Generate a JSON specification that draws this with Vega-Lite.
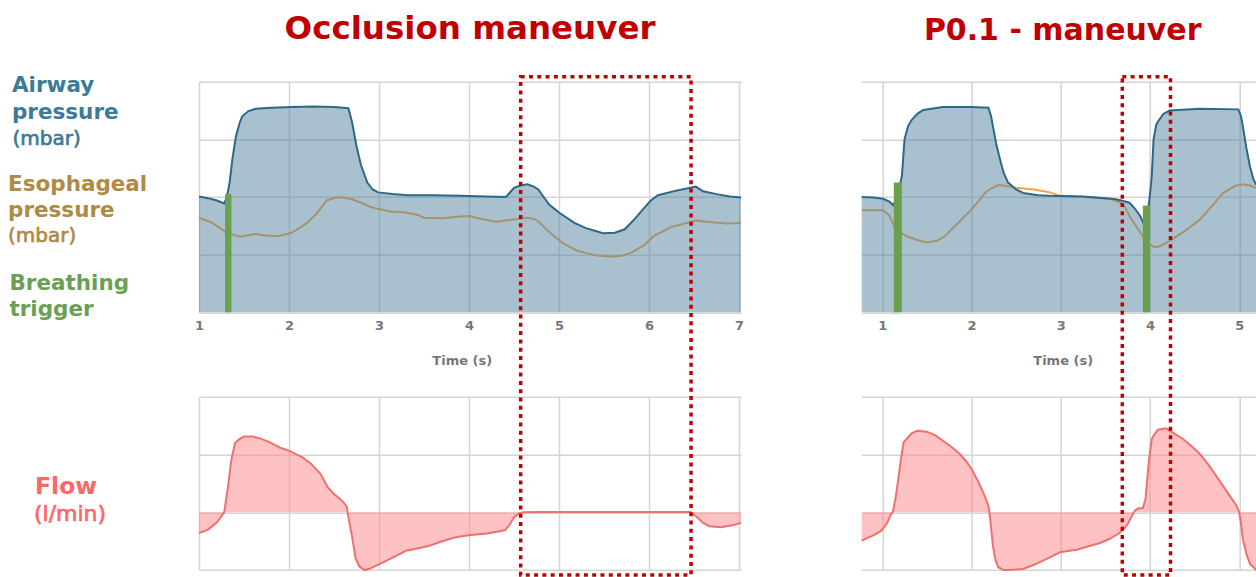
{
  "$schema": "https://vega.github.io/schema/vega-lite/v6.json",
  "padding": {"left": 8, "top": 12.7, "right": 0, "bottom": 0},
  "autosize": {"type": "pad"},
  "config": {
    "view": {"stroke": null},
    "axis": {"domain": false, "ticks": false, "gridColor": "#d5d5d5", "gridWidth": 1.5, "labelFont": "DejaVu Sans", "labelFontWeight": "bold", "labelFontSize": 13, "labelColor": "#777777", "labelPadding": 7.5, "labelFlush": false, "format": "d", "titleFont": "DejaVu Sans", "titleFontWeight": "bold", "titleFontSize": 13, "titleColor": "#777777", "titlePadding": 22}
  },
  "datasets": {
    "paw_l": [{"t":1.0,"p":20.1},{"t":1.1,"p":19.8},{"t":1.2,"p":19.4},{"t":1.28,"p":18.9},{"t":1.31,"p":20.0},{"t":1.34,"p":22.5},{"t":1.37,"p":26.5},{"t":1.41,"p":30.5},{"t":1.45,"p":32.8},{"t":1.48,"p":34.0},{"t":1.55,"p":34.9},{"t":1.63,"p":35.3},{"t":1.8,"p":35.5},{"t":2.03,"p":35.6},{"t":2.27,"p":35.7},{"t":2.5,"p":35.6},{"t":2.66,"p":35.4},{"t":2.7,"p":33.0},{"t":2.75,"p":28.8},{"t":2.8,"p":25.5},{"t":2.87,"p":22.5},{"t":2.93,"p":21.3},{"t":2.99,"p":20.8},{"t":3.15,"p":20.5},{"t":3.32,"p":20.3},{"t":3.6,"p":20.3},{"t":3.9,"p":20.2},{"t":4.2,"p":20.1},{"t":4.41,"p":20.0},{"t":4.45,"p":20.7},{"t":4.5,"p":21.6},{"t":4.57,"p":22.0},{"t":4.65,"p":22.2},{"t":4.72,"p":21.8},{"t":4.77,"p":21.3},{"t":4.83,"p":20.0},{"t":4.89,"p":18.7},{"t":5.0,"p":17.3},{"t":5.17,"p":15.5},{"t":5.3,"p":14.6},{"t":5.49,"p":13.7},{"t":5.62,"p":13.8},{"t":5.73,"p":14.4},{"t":5.83,"p":16.0},{"t":5.93,"p":17.8},{"t":6.02,"p":19.4},{"t":6.1,"p":20.3},{"t":6.3,"p":21.1},{"t":6.52,"p":21.8},{"t":6.6,"p":21.0},{"t":6.75,"p":20.5},{"t":6.9,"p":20.1},{"t":7.022,"p":19.9}],
    "pes_l": [{"t":1.0,"p":16.4},{"t":1.15,"p":15.5},{"t":1.28,"p":14.1},{"t":1.35,"p":13.6},{"t":1.46,"p":13.1},{"t":1.55,"p":13.4},{"t":1.63,"p":13.6},{"t":1.75,"p":13.3},{"t":1.87,"p":13.2},{"t":2.03,"p":13.8},{"t":2.15,"p":15.0},{"t":2.2,"p":15.5},{"t":2.3,"p":17.0},{"t":2.42,"p":19.4},{"t":2.52,"p":19.9},{"t":2.6,"p":19.9},{"t":2.7,"p":19.6},{"t":2.8,"p":19.0},{"t":2.9,"p":18.3},{"t":3.0,"p":17.9},{"t":3.13,"p":17.5},{"t":3.3,"p":17.3},{"t":3.45,"p":16.8},{"t":3.5,"p":16.4},{"t":3.7,"p":16.3},{"t":3.9,"p":16.6},{"t":4.0,"p":16.7},{"t":4.1,"p":16.3},{"t":4.3,"p":15.7},{"t":4.45,"p":16.0},{"t":4.65,"p":16.4},{"t":4.72,"p":16.2},{"t":4.77,"p":15.8},{"t":4.9,"p":13.8},{"t":5.05,"p":11.9},{"t":5.2,"p":10.7},{"t":5.4,"p":9.9},{"t":5.55,"p":9.7},{"t":5.7,"p":9.8},{"t":5.8,"p":10.3},{"t":5.95,"p":11.7},{"t":6.05,"p":13.2},{"t":6.25,"p":14.8},{"t":6.52,"p":15.9},{"t":6.7,"p":15.6},{"t":6.87,"p":15.4},{"t":7.022,"p":15.5}],
    "flow_l": [{"t":1.0,"f":-21.7},{"t":1.1,"f":-18},{"t":1.2,"f":-10.5},{"t":1.28,"f":0},{"t":1.32,"f":25},{"t":1.36,"f":55},{"t":1.4,"f":72},{"t":1.45,"f":76},{"t":1.5,"f":78.6},{"t":1.6,"f":78.6},{"t":1.7,"f":76},{"t":1.8,"f":72},{"t":1.9,"f":67},{"t":2.0,"f":64},{"t":2.15,"f":57},{"t":2.25,"f":50},{"t":2.35,"f":40},{"t":2.43,"f":26},{"t":2.5,"f":19},{"t":2.6,"f":11},{"t":2.64,"f":6.2},{"t":2.66,"f":-5},{"t":2.7,"f":-25},{"t":2.74,"f":-48},{"t":2.78,"f":-56},{"t":2.84,"f":-60},{"t":2.9,"f":-58.5},{"t":3.0,"f":-54},{"t":3.15,"f":-47},{"t":3.3,"f":-40},{"t":3.45,"f":-37},{"t":3.55,"f":-35},{"t":3.7,"f":-30},{"t":3.85,"f":-26},{"t":3.99,"f":-23.8},{"t":4.2,"f":-22},{"t":4.4,"f":-18.6},{"t":4.45,"f":-13},{"t":4.5,"f":-5},{"t":4.55,"f":-1.5},{"t":4.6,"f":0},{"t":4.8,"f":0.3},{"t":5.2,"f":0.3},{"t":6.0,"f":0.3},{"t":6.46,"f":0.3},{"t":6.52,"f":-4},{"t":6.6,"f":-11},{"t":6.67,"f":-14.5},{"t":6.8,"f":-15.5},{"t":6.95,"f":-13},{"t":7.022,"f":-11}],
    "paw_r": [{"t":0.77,"p":20.0},{"t":0.9,"p":19.9},{"t":1.01,"p":19.7},{"t":1.08,"p":19.2},{"t":1.12,"p":18.6},{"t":1.16,"p":19.6},{"t":1.19,"p":21.5},{"t":1.22,"p":23.6},{"t":1.25,"p":30.0},{"t":1.29,"p":32.3},{"t":1.33,"p":33.4},{"t":1.4,"p":34.5},{"t":1.46,"p":35.1},{"t":1.68,"p":35.6},{"t":2.0,"p":35.6},{"t":2.19,"p":35.5},{"t":2.22,"p":34.0},{"t":2.24,"p":32.3},{"t":2.28,"p":29.0},{"t":2.32,"p":26.5},{"t":2.36,"p":24.2},{"t":2.41,"p":22.5},{"t":2.5,"p":21.3},{"t":2.58,"p":20.7},{"t":2.75,"p":20.3},{"t":2.88,"p":20.2},{"t":3.25,"p":20.1},{"t":3.5,"p":19.8},{"t":3.62,"p":19.6},{"t":3.7,"p":19.3},{"t":3.77,"p":19.0},{"t":3.83,"p":18.0},{"t":3.89,"p":16.7},{"t":3.93,"p":15.4},{"t":3.96,"p":16.2},{"t":3.98,"p":17.8},{"t":4.0,"p":20.5},{"t":4.02,"p":23.6},{"t":4.04,"p":30.0},{"t":4.07,"p":32.5},{"t":4.09,"p":33.1},{"t":4.15,"p":34.4},{"t":4.22,"p":35.0},{"t":4.56,"p":35.3},{"t":4.99,"p":35.2},{"t":5.02,"p":34.0},{"t":5.04,"p":32.3},{"t":5.08,"p":28.5},{"t":5.12,"p":25.3},{"t":5.16,"p":23.0},{"t":5.19,"p":22.2},{"t":5.274,"p":21.0}],
    "pes_r": [{"t":0.77,"p":17.7},{"t":1.01,"p":17.7},{"t":1.08,"p":16.8},{"t":1.14,"p":14.7},{"t":1.2,"p":13.9},{"t":1.27,"p":13.2},{"t":1.4,"p":12.5},{"t":1.5,"p":12.1},{"t":1.61,"p":12.4},{"t":1.7,"p":13.2},{"t":1.76,"p":14.1},{"t":1.87,"p":15.8},{"t":1.98,"p":17.5},{"t":2.08,"p":19.3},{"t":2.17,"p":21.0},{"t":2.3,"p":22.1},{"t":2.43,"p":21.8},{"t":2.5,"p":21.6},{"t":2.7,"p":21.3},{"t":2.88,"p":20.8},{"t":2.99,"p":20.2},{"t":3.25,"p":20.0},{"t":3.55,"p":19.7},{"t":3.66,"p":19.1},{"t":3.72,"p":18.2},{"t":3.77,"p":16.7},{"t":3.85,"p":14.8},{"t":3.92,"p":13.2},{"t":3.98,"p":12.0},{"t":4.05,"p":11.3},{"t":4.12,"p":11.5},{"t":4.22,"p":12.4},{"t":4.4,"p":14.2},{"t":4.56,"p":16.1},{"t":4.7,"p":18.5},{"t":4.82,"p":20.7},{"t":4.95,"p":21.9},{"t":5.04,"p":22.2},{"t":5.12,"p":22.0},{"t":5.19,"p":21.6},{"t":5.274,"p":21.0}],
    "flow_r": [{"t":0.77,"f":-29.5},{"t":0.9,"f":-24},{"t":0.99,"f":-19.1},{"t":1.05,"f":-12},{"t":1.1,"f":-1.8},{"t":1.12,"f":0.6},{"t":1.15,"f":15},{"t":1.18,"f":34.6},{"t":1.21,"f":55},{"t":1.24,"f":72.7},{"t":1.29,"f":77.9},{"t":1.33,"f":82},{"t":1.39,"f":84.7},{"t":1.5,"f":83.7},{"t":1.6,"f":79.5},{"t":1.68,"f":74.3},{"t":1.78,"f":67.5},{"t":1.87,"f":60.5},{"t":1.94,"f":53},{"t":2.0,"f":45},{"t":2.07,"f":33},{"t":2.13,"f":20.8},{"t":2.19,"f":6.9},{"t":2.21,"f":-7},{"t":2.24,"f":-34.7},{"t":2.27,"f":-50},{"t":2.3,"f":-57},{"t":2.36,"f":-60},{"t":2.41,"f":-60},{"t":2.5,"f":-59.5},{"t":2.58,"f":-58.9},{"t":2.7,"f":-54.5},{"t":2.8,"f":-50.2},{"t":2.9,"f":-45.8},{"t":2.99,"f":-41.5},{"t":3.1,"f":-40},{"t":3.18,"f":-38.8},{"t":3.3,"f":-35.5},{"t":3.44,"f":-31.9},{"t":3.55,"f":-27.5},{"t":3.66,"f":-21.5},{"t":3.74,"f":-13.9},{"t":3.79,"f":-5},{"t":3.83,"f":1.7},{"t":3.87,"f":4.2},{"t":3.92,"f":4.2},{"t":3.95,"f":13.8},{"t":3.99,"f":55.3},{"t":4.02,"f":76.1},{"t":4.05,"f":81},{"t":4.09,"f":85.7},{"t":4.18,"f":87.2},{"t":4.27,"f":82},{"t":4.37,"f":76.1},{"t":4.46,"f":69},{"t":4.56,"f":60.5},{"t":4.65,"f":50},{"t":4.74,"f":38},{"t":4.85,"f":23},{"t":4.97,"f":6.9},{"t":5.0,"f":0},{"t":5.02,"f":-12},{"t":5.04,"f":-27.7},{"t":5.08,"f":-43},{"t":5.12,"f":-53.6},{"t":5.19,"f":-60},{"t":5.274,"f":-60}],
    "trig_l": [{"t0":1.29,"t1":1.36,"p":20.5}],
    "trig_r": [{"t0":1.13,"t1":1.22,"p":22.5},{"t0":3.92,"t1":4.0,"p":18.5}],
    "box_l": [{"t0":4.574,"t1":6.467}],
    "box_r": [{"t0":3.69,"t1":4.23}],
    "labels": [{"key":"airway","name":"Airway\npressure","unit":"(mbar)"},{"key":"eso","name":"Esophageal\npressure","unit":"(mbar)"},{"key":"trig","name":"Breathing\ntrigger","unit":""},{"key":"flow","name":"Flow","unit":"(l/min)"}]
  },
  "columns": 2,
  "spacing": {"row": 84, "column": 120.7},
  "bounds": "flush",
  "concat": [
    {
      "width": 542, "height": 230.6,
      "title": {"text": "Occlusion maneuver", "font": "DejaVu Sans", "fontWeight": "bold", "fontSize": 32.5, "color": "#C00000", "anchor": "middle", "frame": "group", "offset": 30},
      "layer": [
        {"data": {"name": "pes_l"}, "mark": {"type": "line", "color": "#F2A23C", "strokeWidth": 2},
         "encoding": {"x": {"field": "t", "type": "quantitative", "scale": {"domain": [1, 7.022], "nice": false, "zero": false}, "axis": {"title": "Time (s)", "values": [1,2,3,4,5,6,7], "titleX": 262.7}},
                      "y": {"field": "p", "type": "quantitative", "scale": {"domain": [0, 40], "nice": false}, "axis": {"title": null, "labels": false, "values": [0,10,20,30,40]}}}},
        {"data": {"name": "paw_l"}, "mark": {"type": "area", "color": "#53839F", "opacity": 0.5},
         "encoding": {"x": {"field": "t", "type": "quantitative"}, "y": {"field": "p", "type": "quantitative"}}},
        {"data": {"name": "paw_l"}, "mark": {"type": "line", "color": "#2D6889", "strokeWidth": 2},
         "encoding": {"x": {"field": "t", "type": "quantitative"}, "y": {"field": "p", "type": "quantitative"}}},
        {"data": {"name": "trig_l"}, "mark": {"type": "rect", "color": "#6A9F4E"},
         "encoding": {"x": {"field": "t0", "type": "quantitative"}, "x2": {"field": "t1"}, "y": {"field": "p", "type": "quantitative"}, "y2": {"datum": 0}}},
        {"data": {"name": "labels"}, "transform": [{"filter": "datum.key === 'airway'"}],
         "mark": {"type": "text", "align": "left", "baseline": "alphabetic", "font": "DejaVu Sans", "fontWeight": "bold", "fontSize": 21.5, "color": "#3B7A99", "lineBreak": "\n", "lineHeight": 26.8},
         "encoding": {"text": {"field": "name", "type": "nominal"}, "x": {"datum": -1.078, "type": "quantitative"}, "y": {"datum": 38.16, "type": "quantitative"}}},
        {"data": {"name": "labels"}, "transform": [{"filter": "datum.key === 'airway'"}],
         "mark": {"type": "text", "align": "left", "baseline": "alphabetic", "font": "DejaVu Sans", "fontWeight": "normal", "fontSize": 20, "color": "#3B7A99", "stroke": "#3B7A99", "strokeWidth": 0.7},
         "encoding": {"text": {"field": "unit", "type": "nominal"}, "x": {"datum": -1.072, "type": "quantitative"}, "y": {"datum": 29.02, "type": "quantitative"}}},
        {"data": {"name": "labels"}, "transform": [{"filter": "datum.key === 'eso'"}],
         "mark": {"type": "text", "align": "left", "baseline": "alphabetic", "font": "DejaVu Sans", "fontWeight": "bold", "fontSize": 21.5, "color": "#AF8A45", "lineBreak": "\n", "lineHeight": 26.2},
         "encoding": {"text": {"field": "name", "type": "nominal"}, "x": {"datum": -1.122, "type": "quantitative"}, "y": {"datum": 21.09, "type": "quantitative"}}},
        {"data": {"name": "labels"}, "transform": [{"filter": "datum.key === 'eso'"}],
         "mark": {"type": "text", "align": "left", "baseline": "alphabetic", "font": "DejaVu Sans", "fontWeight": "normal", "fontSize": 20, "color": "#AF8A45", "stroke": "#AF8A45", "strokeWidth": 0.7},
         "encoding": {"text": {"field": "unit", "type": "nominal"}, "x": {"datum": -1.122, "type": "quantitative"}, "y": {"datum": 12.14, "type": "quantitative"}}},
        {"data": {"name": "labels"}, "transform": [{"filter": "datum.key === 'trig'"}],
         "mark": {"type": "text", "align": "left", "baseline": "alphabetic", "font": "DejaVu Sans", "fontWeight": "bold", "fontSize": 21.5, "color": "#6AA052", "lineBreak": "\n", "lineHeight": 25.7},
         "encoding": {"text": {"field": "name", "type": "nominal"}, "x": {"datum": -1.106, "type": "quantitative"}, "y": {"datum": 3.87, "type": "quantitative"}}}
      ]
    },
    {
      "width": 402, "height": 230.6,
      "title": {"text": "P0.1 - maneuver", "font": "DejaVu Sans", "fontWeight": "bold", "fontSize": 30, "color": "#C00000", "anchor": "middle", "frame": "group", "offset": 35.2},
      "layer": [
        {"data": {"name": "pes_r"}, "mark": {"type": "line", "color": "#F2A23C", "strokeWidth": 2},
         "encoding": {"x": {"field": "t", "type": "quantitative", "scale": {"domain": [0.77, 5.274], "nice": false, "zero": false}, "axis": {"title": "Time (s)", "values": [1,2,3,4,5]}},
                      "y": {"field": "p", "type": "quantitative", "scale": {"domain": [0, 40], "nice": false}, "axis": {"title": null, "labels": false, "values": [0,10,20,30,40]}}}},
        {"data": {"name": "paw_r"}, "mark": {"type": "area", "color": "#53839F", "opacity": 0.5},
         "encoding": {"x": {"field": "t", "type": "quantitative"}, "y": {"field": "p", "type": "quantitative"}}},
        {"data": {"name": "paw_r"}, "mark": {"type": "line", "color": "#2D6889", "strokeWidth": 2},
         "encoding": {"x": {"field": "t", "type": "quantitative"}, "y": {"field": "p", "type": "quantitative"}}},
        {"data": {"name": "trig_r"}, "mark": {"type": "rect", "color": "#6A9F4E"},
         "encoding": {"x": {"field": "t0", "type": "quantitative"}, "x2": {"field": "t1"}, "y": {"field": "p", "type": "quantitative"}, "y2": {"datum": 0}}}
      ]
    },
    {
      "width": 542, "height": 173.4,
      "layer": [
        {"data": {"name": "flow_l"}, "mark": {"type": "area", "color": "#FF8585", "opacity": 0.5},
         "encoding": {"x": {"field": "t", "type": "quantitative", "scale": {"domain": [1, 7.022], "nice": false, "zero": false}, "axis": {"title": null, "labels": false, "values": [1,2,3,4,5,6,7]}},
                      "y": {"field": "f", "type": "quantitative", "scale": {"domain": [-60, 120], "nice": false}, "axis": {"title": null, "labels": false, "values": [-60,0,60,120]}},
                      "y2": {"datum": 0}}},
        {"data": {"name": "flow_l"}, "mark": {"type": "line", "color": "#F07070", "strokeWidth": 2},
         "encoding": {"x": {"field": "t", "type": "quantitative"}, "y": {"field": "f", "type": "quantitative"}}},
        {"data": {"name": "box_l"}, "mark": {"type": "rect", "fillOpacity": 0, "stroke": "#C00000", "strokeWidth": 3.5, "strokeDash": [4, 4.3]},
         "encoding": {"x": {"field": "t0", "type": "quantitative"}, "x2": {"field": "t1"}, "y": {"datum": 452.2, "type": "quantitative"}, "y2": {"datum": -65.1}}},
        {"data": {"name": "labels"}, "transform": [{"filter": "datum.key === 'flow'"}],
         "mark": {"type": "text", "align": "center", "baseline": "alphabetic", "font": "DejaVu Sans", "fontWeight": "bold", "fontSize": 23.5, "color": "#FF6666"},
         "encoding": {"text": {"field": "name", "type": "nominal"}, "x": {"datum": -0.478, "type": "quantitative"}, "y": {"datum": 19.0, "type": "quantitative"}}},
        {"data": {"name": "labels"}, "transform": [{"filter": "datum.key === 'flow'"}],
         "mark": {"type": "text", "align": "center", "baseline": "alphabetic", "font": "DejaVu Sans", "fontWeight": "normal", "fontSize": 22, "color": "#FF6666", "stroke": "#FF6666", "strokeWidth": 0.7},
         "encoding": {"text": {"field": "unit", "type": "nominal"}, "x": {"datum": -0.433, "type": "quantitative"}, "y": {"datum": -8.72, "type": "quantitative"}}}
      ]
    },
    {
      "width": 402, "height": 173.4,
      "layer": [
        {"data": {"name": "flow_r"}, "mark": {"type": "area", "color": "#FF8585", "opacity": 0.5},
         "encoding": {"x": {"field": "t", "type": "quantitative", "scale": {"domain": [0.77, 5.274], "nice": false, "zero": false}, "axis": {"title": null, "labels": false, "values": [1,2,3,4,5]}},
                      "y": {"field": "f", "type": "quantitative", "scale": {"domain": [-60, 120], "nice": false}, "axis": {"title": null, "labels": false, "values": [-60,0,60,120]}},
                      "y2": {"datum": 0}}},
        {"data": {"name": "flow_r"}, "mark": {"type": "line", "color": "#F07070", "strokeWidth": 2},
         "encoding": {"x": {"field": "t", "type": "quantitative"}, "y": {"field": "f", "type": "quantitative"}}},
        {"data": {"name": "box_r"}, "mark": {"type": "rect", "fillOpacity": 0, "stroke": "#C00000", "strokeWidth": 3.5, "strokeDash": [4, 4.3]},
         "encoding": {"x": {"field": "t0", "type": "quantitative"}, "x2": {"field": "t1"}, "y": {"datum": 452.2, "type": "quantitative"}, "y2": {"datum": -65.1}}}
      ]
    }
  ]
}
